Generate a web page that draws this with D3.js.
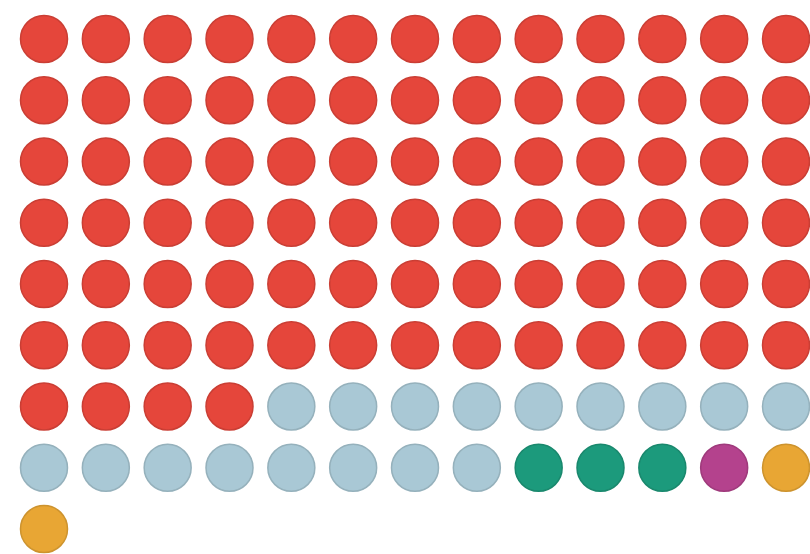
<!DOCTYPE html>
<html>
<head>
<meta charset="utf-8">
<script src="https://cdn.jsdelivr.net/npm/d3@7"></script>
<style>
  html, body { margin: 0; padding: 0; background: #fff; overflow: hidden; }
</style>
</head>
<body>
<div id="chart"></div>
<script>
// 数据：各类别的点数
var categories = ["red", "lightblue", "green", "purple", "orange"];
var counts = [82, 17, 3, 1, 2];
var colors = ["#e5463b", "#a9c8d5", "#1c9a7c", "#b4428d", "#e8a634"];

let width = 810;
let height = 554;
let cols = 13;
let rows = 9;

// 展开成每个点一条记录
var dots = [];
categories.forEach(function (c, k) {
    for (var j = 0; j < counts[k]; j++) dots.push(k);
});

// 列和行的位置
var xScale = d3.scaleLinear()
    .domain([0, cols - 1])
    .range([44, 786]);

var yScale = d3.scaleLinear()
    .domain([0, rows - 1])
    .range([39, 529]);

var svg = d3.select("#chart").append("svg")
    .attr("width", width)
    .attr("height", height);

svg.selectAll("circle")
    .data(dots)
    .enter()
    .append("circle")
    .attr("cx", function (d, i) {
        return xScale(i % cols);
    })
    .attr("cy", function (d, i) {
        return yScale(Math.floor(i / cols));
    })
    .attr("r", 23.5)
    .attr("fill", function (d) {
        return colors[d];
    })
    .attr("stroke", function (d) {
        return d3.color(colors[d]).darker(0.35);
    })
    .attr("stroke-width", 1.5);
</script>
</body>
</html>
